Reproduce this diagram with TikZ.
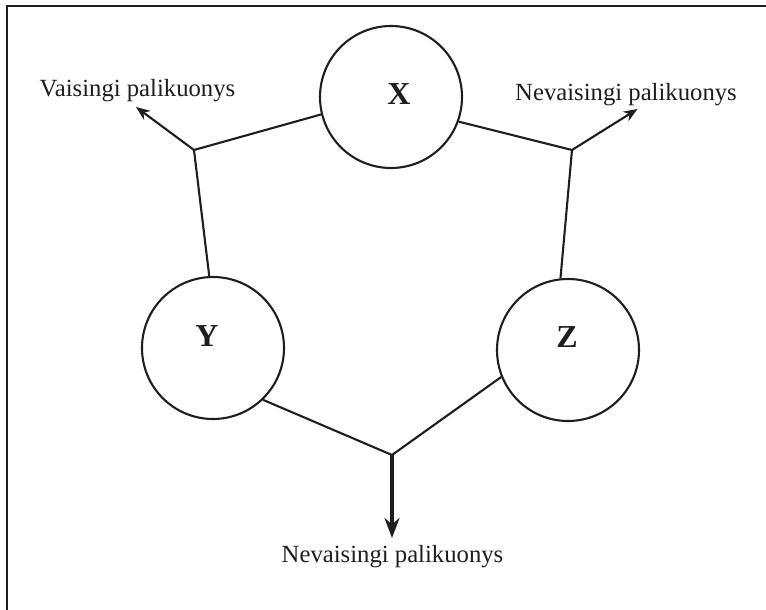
\documentclass[tikz,border=0pt]{standalone}
\usepackage{fontspec}
\setmainfont{Liberation Serif}
\usepackage{tikz}
\usetikzlibrary{positioning,calc,arrows.meta}
\definecolor{inkcolor}{RGB}{30, 30, 30}

\begin{document}
\begin{tikzpicture}[
    x=1pt, y=-1pt,
    parent/.style={circle, draw=inkcolor, line width=2.1pt, minimum size=142pt, inner sep=0pt},
    letter/.style={inner sep=0pt, font=\fontsize{32}{34}\selectfont\bfseries, text=inkcolor},
    offspring/.style={inner sep=0pt, anchor=base, font=\fontsize{24.7}{28}\selectfont, text=inkcolor},
    link/.style={draw=inkcolor, line width=2.1pt},
    thin arrow/.style={link, -{Stealth[length=14pt, width=11pt]}},
    thick arrow/.style={draw=inkcolor, line width=4.8pt, -{Stealth[length=20pt, width=15pt]}}
]
    \useasboundingbox (0,0) rectangle (766,610);

    % Frame (cut on the right and bottom)
    \draw[inkcolor, line width=2pt] (7,610) -- (7,6) -- (766,6);

    % Parents
    \node[parent] (X) at (391,97) {};
    \node[parent] (Y) at (213,348) {};
    \node[parent] (Z) at (568,350) {};
    \node[letter] (lx) at (399,94) {X};
    \node[letter] (ly) at (207,336) {Y};
    \node[letter] (lz) at (567,337) {Z};

    % Crossing points
    \coordinate (jl) at (194,150);
    \coordinate (jr) at (572,150);
    \coordinate (jb) at (392,455);

    % Offspring labels
    \node[offspring] (vl) at (137.5,96) {Vaisingi palikuonys};
    \node[offspring] (nr) at (626,100) {Nevaisingi palikuonys};
    \node[offspring] (nb) at (392.5,562) {Nevaisingi palikuonys};

    \coordinate (tl) at (136,107);
    \coordinate (tr) at (637.5,109);
    \coordinate (tb) at (392,538);

    % X with Y
    \draw[link] (X.194) -- (jl) -- (Y.93);
    \draw[thin arrow] (jl) -- (tl);

    % X with Z
    \draw[link] (X.-20) -- (jr) -- (Z.96);
    \draw[thin arrow] (jr) -- (tr);

    % Y with Z
    \draw[link] (Y.-46) -- (jb) -- (Z.202);
    \draw[thick arrow] (jb) -- (tb);
\end{tikzpicture}
\end{document}
